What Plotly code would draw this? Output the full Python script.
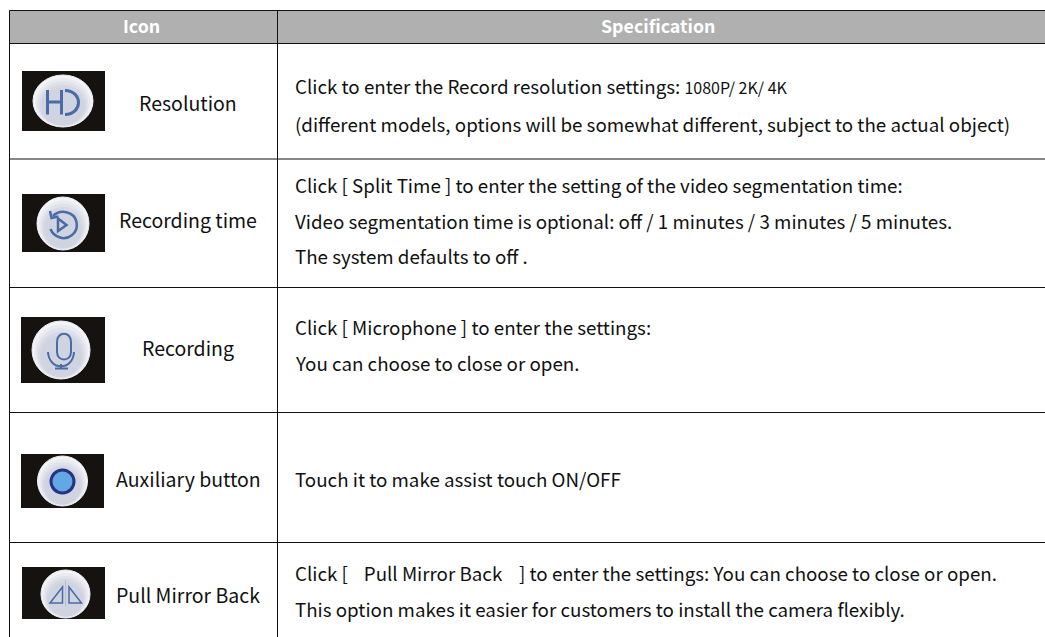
import plotly.graph_objects as go

FONT = "Noto Sans CJK SC"
W, H = 1045, 637

headers = ["Icon", "Specification"]
names = ["Resolution", "Recording time", "Recording", "Auxiliary button", "Pull Mirror Back"]
spec_lines = [
    ["Click to enter the Record resolution settings: <span style='font-size:16px'>1080P/ 2K/ 4K</span>",
     "(different models, options will be somewhat different, subject to the actual object)"],
    ["Click [ Split Time ] to enter the setting of the video segmentation time:",
     "Video segmentation time is optional: off / 1 minutes / 3 minutes / 5 minutes.",
     "The system defaults to off ."],
    ["Click [ Microphone ] to enter the settings:", "You can choose to close or open."],
    ["Touch it to make assist touch ON/OFF"],
    ["Click [ \u00a0\u2009\u2009Pull Mirror Back \u00a0\u00a0\u00a0] to enter the settings: You can choose to close or open.",
     "This option makes it easier for customers to install the camera flexibly."],
]
line_y = [[85, 123], [184, 220, 255], [326, 362], [478], [572, 608]]
name_y = [102, 219, 347, 478, 594]
rows_y = [10.5, 43.5, 159, 287.5, 412.5, 542.5]
col_x = [9.5, 277.5, 1050]
icon_box = [(22, 71, 105, 131), (22, 194, 105, 252), (21, 317, 105, 383), (21, 454, 104, 508), (22, 567, 105, 619)]
icon_c = [(63, 101, 30, 26), (63, 223.5, 26, 26.5), (61, 350, 29, 29), (62.5, 481, 25, 25), (65.5, 594, 24.5, 24)]
shades = ["#f3f4f7", "#e9ebf0", "#dfe2ea", "#d6d9e4", "#d0d4e1"]

shapes, ann = [], []
shapes.append(dict(type="rect", x0=col_x[0], x1=col_x[2], y0=rows_y[0], y1=rows_y[1], fillcolor="#b0b0b0", line_width=0, layer="below"))
for y in rows_y:
    shapes.append(dict(type="line", x0=col_x[0], x1=col_x[2], y0=y, y1=y, line=dict(color="#111", width=1)))
for x in col_x[:2]:
    shapes.append(dict(type="line", x0=x, x1=x, y0=rows_y[0], y1=H + 5, line=dict(color="#111", width=1)))

def text(x, y, s, size, color="#111111", anchor="left"):
    ann.append(dict(x=x, y=y, text=s, showarrow=False, xanchor=anchor, yanchor="middle", font=dict(family=FONT, size=size, color=color)))

text(141, 25, "<b>" + headers[0] + "</b>", 17.8, "#ffffff", "center")
text(658, 25, "<b>" + headers[1] + "</b>", 17.8, "#ffffff", "center")

for nm, ny, lines, ys in zip(names, name_y, spec_lines, line_y):
    text(188, ny, nm, 19.5, anchor="center")
    for s, y in zip(lines, ys):
        text(293, y, s, 18.75)

blue = "#4a6ba5"
for (x0, y0, x1, y1), (cx, cy, rx, ry) in zip(icon_box, icon_c):
    shapes.append(dict(type="rect", x0=x0, x1=x1, y0=y0, y1=y1, fillcolor="#15120f", line_width=0))
    for k, col in enumerate(shades):
        s = 1 - 0.07 * k
        c = cy + ry * (1 - s) * 0.75
        shapes.append(dict(type="circle", x0=cx - rx * s, x1=cx + rx * s, y0=c - ry * s, y1=c + ry * s,
                           fillcolor=col, line=dict(color="#f0f1f3" if k == 0 else col, width=1 if k == 0 else 0)))

def glyph(path, width=2, color=blue):
    shapes.append(dict(type="path", path=path, line=dict(color=color, width=width)))

# HD
glyph("M 47.5 90 L 47.5 114.5 M 61.5 90 L 61.5 114.5 M 47.5 102 L 61.5 102 M 65 90.5 C 83 91 83 114 65 114.5", 3)
# replay
glyph("M 53 216 C 60 209 74 211 76.5 222 C 79 234 67 240 60 237.5 C 55 236 52 233 50.5 229", 2.5)
glyph("M 50 211 L 51.5 218 L 58.5 216.5", 2.5)
glyph("M 58 218.5 L 66.5 225 L 58 231 Z", 2.5)
# mic
glyph("M 57 342 C 57 331 71 331 71 342 L 71 352 C 71 362 57 362 57 352 Z", 2)
glyph("M 48 352 C 49 371 73 371 74 352 M 61 364 L 61 368 M 55 368.5 L 68 368.5", 2)
# auxiliary button
shapes.append(dict(type="circle", x0=51, x1=74, y0=470, y1=493, fillcolor="#62a8e4", line=dict(color="#27337f", width=3)))
# mirror
glyph("M 65.5 580 L 65.5 606", 1, color="#b4bdd2")
glyph("M 62.5 587 L 62.5 603 L 50 603 Z M 69 587 L 69 603 L 81.5 603 Z", 1.5)

fig = go.Figure()
fig.update_layout(width=W, height=H, autosize=False, margin=dict(l=0, r=0, t=0, b=0),
                  paper_bgcolor="white", plot_bgcolor="white", showlegend=False,
                  shapes=shapes, annotations=ann,
                  xaxis=dict(range=[0, W], visible=False, fixedrange=True),
                  yaxis=dict(range=[H, 0], visible=False, fixedrange=True))
fig.write_html("out.html", config=dict(displayModeBar=False),
               post_script="document.body.style.margin='0';document.documentElement.style.overflow='hidden';")
